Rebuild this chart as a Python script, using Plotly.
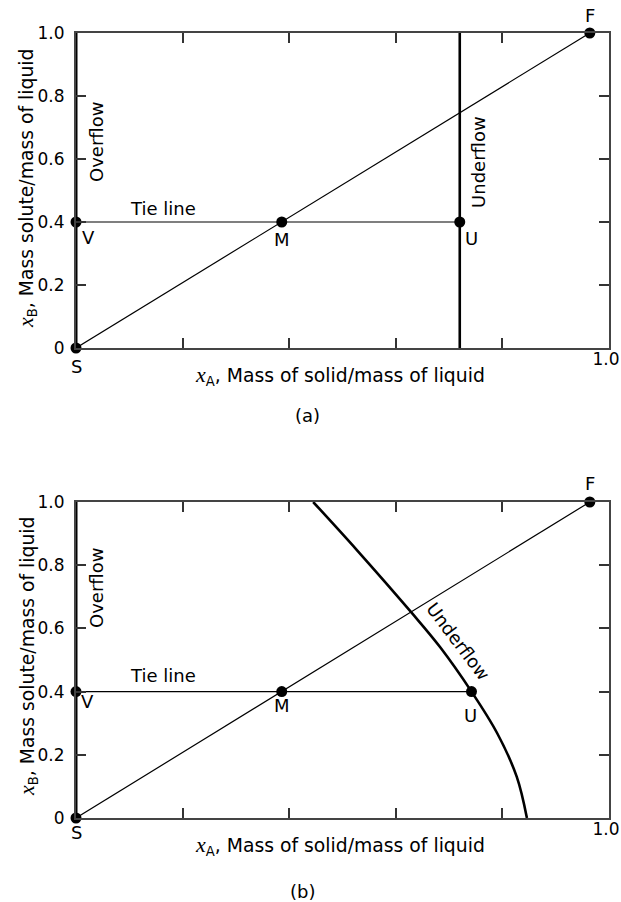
import plotly.graph_objects as go

# ---- data ----
S = (0.0, 0.0)
F = (0.964, 1.0)
V = (0.0, 0.4)
M = (0.386, 0.4)
U_a = (0.72, 0.4)
U_b = (0.742, 0.4)

overflow_x = [0.0, 0.0]
overflow_y = [0.0, 1.0]
underflow_a_x = [0.72, 0.72]
underflow_a_y = [0.0, 1.0]
underflow_b_x = [0.445, 0.527, 0.630, 0.683, 0.742, 0.790, 0.827, 0.846]
underflow_b_y = [1.0, 0.848, 0.649, 0.541, 0.40, 0.269, 0.130, 0.0]

x_label_vals = [1.0]
x_label_text = ["1.0"]
x_minor_vals = [0.2, 0.4, 0.6, 0.8]
y_tickvals = [0.0, 0.2, 0.4, 0.6, 0.8, 1.0]
y_ticktext = ["0", "0.2", "0.4", "0.6", "0.8", "1.0"]

FONT = "DejaVu Sans"
fig = go.Figure()

def add_panel(xa, ya, U, under_x, under_y, under_shape):
    fig.add_trace(go.Scatter(x=overflow_x, y=overflow_y, mode="lines",
                             line=dict(color="black", width=3), xaxis=xa, yaxis=ya,
                             hoverinfo="skip", showlegend=False))
    fig.add_trace(go.Scatter(x=under_x, y=under_y, mode="lines",
                             line=dict(color="black", width=2.6, shape=under_shape),
                             xaxis=xa, yaxis=ya, hoverinfo="skip", showlegend=False))
    fig.add_trace(go.Scatter(x=[S[0], F[0]], y=[S[1], F[1]], mode="lines",
                             line=dict(color="black", width=1.2), xaxis=xa, yaxis=ya,
                             hoverinfo="skip", showlegend=False))
    fig.add_trace(go.Scatter(x=[V[0], U[0]], y=[V[1], U[1]], mode="lines",
                             line=dict(color="black", width=1.2), xaxis=xa, yaxis=ya,
                             hoverinfo="skip", showlegend=False))
    fig.add_trace(go.Scatter(x=[S[0], V[0], M[0], U[0], F[0]],
                             y=[S[1], V[1], M[1], U[1], F[1]], mode="markers",
                             marker=dict(color="black", size=11), cliponaxis=False,
                             xaxis=xa, yaxis=ya, hoverinfo="skip", showlegend=False))

add_panel("x", "y", U_a, underflow_a_x, underflow_a_y, "linear")
add_panel("x2", "y2", U_b, underflow_b_x, underflow_b_y, "spline")

axis_common = dict(range=[0, 1], showgrid=False, zeroline=False, showline=True,
                   linecolor="#444", linewidth=2, mirror="ticks", ticks="inside",
                   ticklen=10, tickwidth=2, tickcolor="#333", automargin=False,
                   ticklabeloverflow="allow",
                   tickfont=dict(family=FONT, size=17, color="black"))
xaxis_extra = dict(tickvals=x_label_vals, ticktext=x_label_text,
                   ticklabelshift=-3, ticklabelstandoff=-5,
                   minor=dict(tickvals=x_minor_vals, ticks="inside", ticklen=10,
                              tickwidth=2, tickcolor="#333", showgrid=False))
XDOM = [76 / 621, 609 / 621]
fig.update_layout(
    width=621, height=902,
    margin=dict(l=0, r=0, t=0, b=0, pad=0, autoexpand=False),
    plot_bgcolor="white", paper_bgcolor="white",
    xaxis=dict(domain=XDOM, anchor="y", **xaxis_extra, **axis_common),
    yaxis=dict(domain=[1 - 348 / 902, 1 - 33 / 902], anchor="x", tickvals=y_tickvals,
               ticktext=y_ticktext, ticklabelstandoff=6, **axis_common),
    xaxis2=dict(domain=XDOM, anchor="y2", **xaxis_extra, **axis_common),
    yaxis2=dict(domain=[1 - 818 / 902, 1 - 502 / 902], anchor="x2", tickvals=y_tickvals,
                ticktext=y_ticktext, ticklabelstandoff=6, **axis_common),
)

ann = []

def lab(text, x, y, xr, yr, xs=0, ys=0, angle=0, size=18):
    ann.append(dict(text=text, x=x, y=y, xref=xr, yref=yr, xshift=xs, yshift=ys,
                    showarrow=False, textangle=angle,
                    font=dict(family=FONT, size=size, color="black"),
                    xanchor="center", yanchor="middle"))

# panel (a)
lab("F", F[0], F[1], "x", "y", 0, 18)
lab("S", 0, 0, "x", "y", 0, -18)
lab("V", 0, 0.4, "x", "y", 12, -15)
lab("M", M[0], 0.4, "x", "y", 0, -17)
lab("U", U_a[0], 0.4, "x", "y", 12, -16)
lab("Tie line", 0.163, 0.4, "x", "y", 0, 14)
lab("Overflow", 0, 0.654, "x", "y", 21, 0, -90)
lab("Underflow", U_a[0], 0.59, "x", "y", 18, 0, -90)

# panel (b)
lab("F", F[0], F[1], "x2", "y2", 0, 19)
lab("S", 0, 0, "x2", "y2", 0, -14)
lab("V", 0, 0.4, "x2", "y2", 11, -10)
lab("M", M[0], 0.4, "x2", "y2", 0, -14)
lab("U", U_b[0], 0.4, "x2", "y2", -1, -24)
lab("Tie line", 0.163, 0.4, "x2", "y2", 0, 16)
lab("Overflow", 0, 0.728, "x2", "y2", 21, 0, -90)
lab("Underflow", 0.717, 0.557, "x2", "y2", 0, 0, 53)

xt = ("<span style='font-family:Liberation Serif;font-size:22px'><i>x</i></span>"
      "<sub>A</sub>, Mass of solid/mass of liquid")
yt = ("<span style='font-family:Liberation Serif;font-size:22px'><i>x</i></span>"
      "<sub>B</sub>, Mass solute/mass of liquid")

for yc in (375, 845):
    lab(xt, 340 / 621, 1 - yc / 902, "paper", "paper", size=18.8)
for yc in (189, 657):
    lab(yt, 27 / 621, 1 - yc / 902, "paper", "paper", 0, 0, -90, size=18.8)
lab("(a)", 307 / 621, 1 - 415 / 902, "paper", "paper")
lab("(b)", 302 / 621, 1 - 891 / 902, "paper", "paper")

fig.update_layout(annotations=ann)
fig.write_html("out.html")
